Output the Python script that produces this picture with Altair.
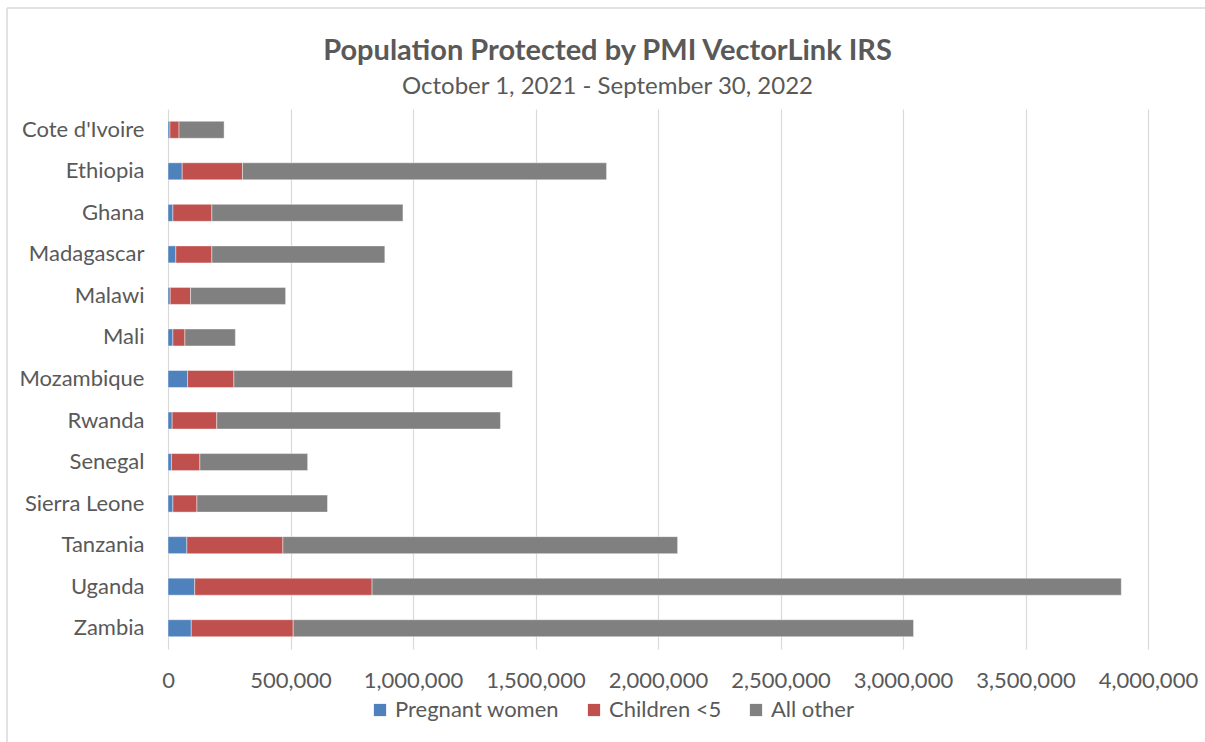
import altair as alt
import pandas as pd

countries = ["Cote d'Ivoire", "Ethiopia", "Ghana", "Madagascar", "Malawi", "Mali",
             "Mozambique", "Rwanda", "Senegal", "Sierra Leone", "Tanzania", "Uganda", "Zambia"]
pregnant = [8000, 58000, 20000, 32000, 9000, 20000, 80000, 17000, 14000, 20000, 77000, 109000, 95000]
children = [37000, 246000, 159000, 147000, 83000, 49000, 189000, 182000, 116000, 98000, 392000, 724000, 416000]
other = [184000, 1486000, 780000, 706000, 388000, 206000, 1137000, 1158000, 440000, 533000, 1611000, 3058000, 2532000]

series = ["Pregnant women", "Children <5", "All other"]
colors = ["#4F81BD", "#C0504D", "#808080"]
x_ticks = [0, 500000, 1000000, 1500000, 2000000, 2500000, 3000000, 3500000, 4000000]

rows = []
for i, c in enumerate(countries):
    for k, (name, vals) in enumerate(zip(series, [pregnant, children, other])):
        rows.append({"country": c, "group": name, "value": vals[i], "ord": k})
df = pd.DataFrame(rows)

FONT = "Lato"
TXT = "#595959"
FS = 22

bars = alt.Chart(df).mark_bar(size=17, stroke="white", strokeWidth=0.6, strokeOpacity=0.7).encode(
    y=alt.Y("country:N", sort=countries, title=None,
            axis=alt.Axis(labelFontSize=FS, labelColor=TXT, labelFont=FONT, ticks=False,
                          domain=False, labelPadding=24, labelLimit=200)),
    x=alt.X("value:Q", stack="zero", title=None,
            scale=alt.Scale(domain=[0, 4000000], nice=False),
            axis=alt.Axis(values=x_ticks, format=",d", labelFontSize=FS, labelColor=TXT,
                          labelFont=FONT, ticks=False, domain=False, grid=True,
                          gridColor="#D9D9D9", gridWidth=1.2, labelPadding=21,
                          labelFlush=False)),
    color=alt.Color("group:N", scale=alt.Scale(domain=series, range=colors),
                    legend=alt.Legend(title=None, orient="none", direction="horizontal",
                                      legendX=201, legendY=590, symbolType="square",
                                      symbolSize=150, symbolStrokeWidth=0,
                                      labelFontSize=FS, labelColor=TXT, labelFont=FONT,
                                      labelLimit=300, columnPadding=23, labelOffset=4)),
    order=alt.Order("ord:Q"),
)

frame_left = alt.Chart(alt.Data(values=[{}])).mark_rule(color="#D9D9D9", strokeWidth=1.5).encode(
    x=alt.value(-161), y=alt.value(-101), y2=alt.value(640))
frame_top = alt.Chart(alt.Data(values=[{}])).mark_rule(color="#D9D9D9", strokeWidth=1.5).encode(
    x=alt.value(-161), x2=alt.value(1040), y=alt.value(-101))

chart = alt.layer(bars, frame_left, frame_top).properties(
    width=980, height=540,
    padding={"left": 168, "top": 109, "right": 57, "bottom": 93},
    autosize=alt.AutoSizeParams(type="none"),
    title=alt.TitleParams(
        text="Population Protected by PMI VectorLink IRS",
        subtitle="October 1, 2021 - September 30, 2022",
        font=FONT, fontSize=29, fontWeight="bold", color=TXT,
        subtitleFont=FONT, subtitleFontSize=24, subtitleColor=TXT,
        subtitlePadding=9, anchor="middle", frame="bounds", offset=-92,
    ),
).configure(background="white").configure_view(strokeWidth=0, stroke="transparent")

chart.save("out.html", embed_options={"renderer": "svg", "actions": False})
